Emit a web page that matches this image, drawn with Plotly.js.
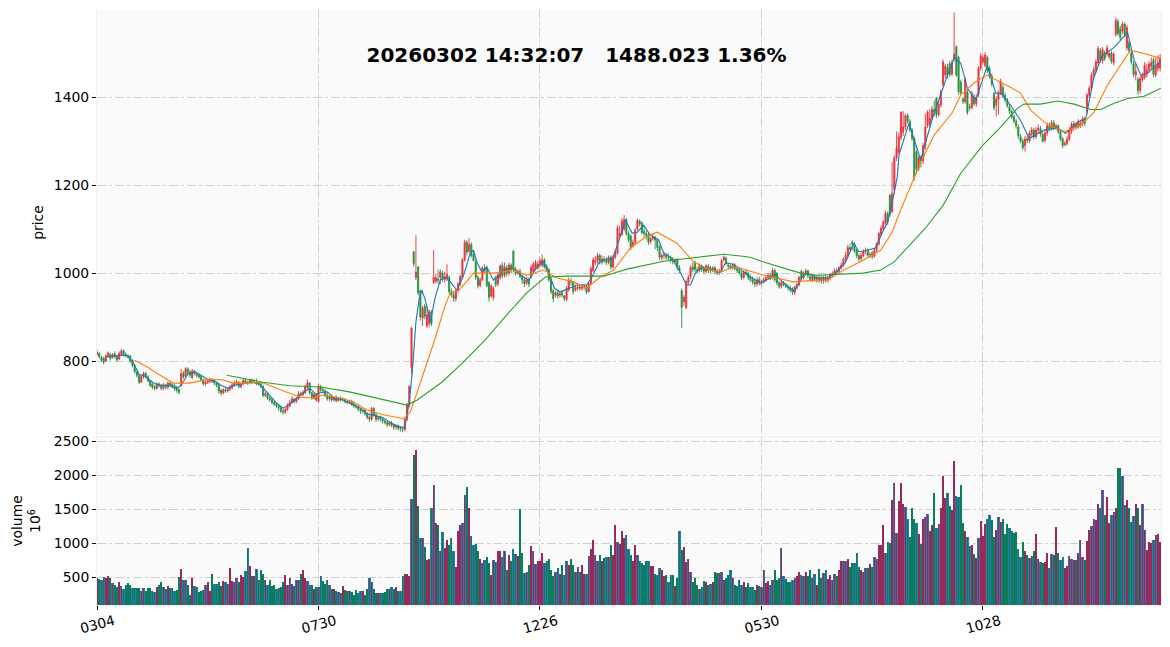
<!DOCTYPE html>
<html><head><meta charset="utf-8">
<script src="https://cdn.plot.ly/plotly-3.0.1.min.js"></script>
<style>html,body{margin:0;padding:0;background:#fff}</style></head>
<body><div id="chart" style="width:1170px;height:647px"></div>
<script>
const opens=[815,818,808,806,800,812,815,808,816,810,
805,816,824,815,812,812,802,790,775,768,
752,765,772,764,755,748,742,738,748,745,
738,745,740,750,747,745,740,735,745,772,
766,782,775,762,778,772,768,765,757,748,
752,754,758,755,750,745,733,728,734,732,
736,740,744,748,752,742,748,756,752,750,
756,752,752,748,746,742,722,726,716,712,
706,702,698,694,686,684,690,698,706,714,
708,714,726,724,728,740,750,728,716,724,
708,742,735,732,722,714,720,712,716,710,
714,712,712,708,706,708,702,698,696,690,
686,688,680,672,668,692,678,668,672,668,
664,660,656,660,654,650,652,648,646,645,
668,700,785,1048,990,1014,960,898,925,880,
885,912,979,982,986,990,1000,985,988,990,
958,950,942,960,975,990,1030,1070,1050,1065,
1042,1025,990,972,985,1012,1012,978,948,945,
990,975,990,1018,995,1012,1000,1018,1050,1008,
1000,1004,992,985,978,985,992,1004,1010,1012,
1020,1018,1030,1015,1008,985,960,950,955,950,
955,948,940,962,982,980,962,965,968,965,
968,970,957,976,1006,1024,1028,1040,1026,1032,
1030,1024,1036,1014,1036,1046,1085,1088,1100,1122,
1090,1084,1062,1070,1100,1118,1114,1095,1090,1088,
1072,1078,1082,1075,1060,1035,1040,1040,1036,1035,
1030,1026,1030,1012,960,935,922,978,992,1014,
1024,1008,1006,1016,1010,1004,1016,1012,1006,1012,
1004,1000,1004,1030,1034,1018,1016,1012,1018,1010,
1006,1000,990,1002,1000,990,985,980,975,985,
978,980,985,990,995,990,1006,1000,978,970,
978,974,970,966,965,955,968,974,1004,990,
1000,1005,992,985,992,985,990,988,982,990,
984,990,996,998,1006,1004,1012,1018,1030,1040,
1058,1070,1066,1052,1040,1032,1040,1050,1052,1042,
1046,1038,1052,1066,1088,1100,1114,1135,1177,1140,
1190,1262,1275,1308,1320,1332,1358,1345,1325,1306,
1275,1238,1262,1255,1290,1336,1338,1352,1372,1398,
1360,1382,1428,1450,1468,1476,1452,1488,1514,1490,
1434,1395,1390,1412,1378,1376,1400,1385,1406,1466,
1480,1472,1490,1465,1448,1408,1382,1395,1408,1422,
1404,1394,1378,1368,1355,1345,1332,1310,1300,1290,
1305,1300,1315,1325,1310,1325,1328,1315,1302,1318,
1335,1328,1342,1330,1335,1322,1305,1292,1295,1305,
1322,1330,1338,1332,1336,1340,1352,1366,1404,1420,
1450,1462,1478,1505,1482,1500,1498,1492,1500,1478,
1542,1572,1555,1550,1566,1512,1524,1500,1476,1450,
1440,1415,1440,1445,1452,1462,1470,1485,1450,1465,1466];
const closes=[820,810,802,798,812,818,806,815,810,803,
818,823,815,812,811,800,790,776,768,752,
765,772,764,755,745,741,738,748,744,738,
746,741,750,746,743,738,734,729,772,764,
783,774,768,778,772,767,764,758,748,752,
755,758,754,750,745,732,728,735,732,736,
741,746,750,753,742,749,756,751,750,756,
752,752,748,747,742,722,726,716,712,706,
702,698,694,686,684,690,698,706,714,708,
714,726,724,729,741,751,728,716,724,712,
743,735,732,722,714,720,712,716,710,714,
712,712,708,706,708,702,698,696,690,686,
688,680,672,668,692,678,668,672,668,664,
660,656,660,654,650,652,648,646,645,668,
700,742,875,1022,1002,955,900,920,902,905,
912,885,990,990,984,1002,985,990,997,958,
950,942,960,975,992,1030,1070,1048,1065,1040,
1028,990,972,985,1012,1006,972,945,970,965,
974,995,1016,994,1014,1000,1018,1008,1008,1000,
1005,992,985,976,985,975,1013,1020,1024,1020,
1028,1030,1014,1008,985,958,942,955,948,952,
950,942,965,984,980,958,967,968,966,968,
970,957,976,1010,1030,1028,1040,1027,1032,1030,
1024,1036,1014,1036,1046,1102,1090,1118,1122,1090,
1076,1058,1070,1098,1120,1112,1092,1090,1086,1070,
1078,1082,1075,1058,1036,1040,1040,1036,1035,1030,
1026,1030,1012,1006,922,945,980,990,1013,1008,
1008,1006,1018,1008,1004,1016,1006,1006,1012,1004,
1000,1004,1028,1036,1022,1016,1012,1018,1010,1006,
1000,990,1002,1000,990,985,980,975,985,978,
980,985,990,995,990,1006,985,978,970,978,
974,970,966,962,958,968,974,990,988,1000,
1005,994,986,992,985,990,985,982,990,984,
990,996,998,1006,1004,1012,1018,1030,1040,1058,
1054,1066,1050,1040,1032,1040,1050,1052,1040,1042,
1038,1052,1066,1090,1102,1116,1136,1116,1134,1180,
1262,1285,1310,1365,1332,1358,1345,1325,1306,1218,
1238,1262,1255,1290,1332,1366,1352,1372,1366,1360,
1384,1412,1480,1470,1450,1452,1478,1498,1450,1412,
1410,1390,1440,1365,1376,1408,1385,1400,1466,1494,
1490,1496,1460,1446,1430,1376,1395,1408,1436,1404,
1394,1380,1368,1355,1345,1335,1312,1300,1285,1305,
1302,1318,1325,1310,1325,1330,1316,1300,1318,1335,
1328,1342,1330,1335,1322,1305,1290,1295,1305,1325,
1338,1340,1330,1344,1340,1350,1340,1405,1420,1450,
1462,1480,1510,1485,1508,1488,1512,1500,1482,1498,
1574,1545,1536,1566,1542,1558,1506,1480,1452,1458,
1415,1442,1450,1472,1462,1475,1478,1452,1470,1478,1488];
const highs=[826,820,812,810,815,822,818,818,822,812,
822,828,826,820,815,813,804,792,778,770,
768,776,776,768,757,750,746,752,752,748,
750,748,754,752,750,747,744,738,782,778,
786,786,780,782,780,776,772,768,760,756,
758,762,760,758,752,748,737,738,738,740,
745,750,756,758,755,752,760,760,755,760,
760,758,760,752,752,745,730,728,720,716,
710,706,702,698,692,694,704,712,720,716,
718,732,730,734,746,758,752,730,728,726,
748,746,740,736,728,722,724,720,722,718,
720,717,716,712,712,712,708,702,700,694,
692,692,684,676,696,696,682,676,676,672,
668,664,664,664,658,656,656,652,650,670,
705,745,878,1050,1086,1016,962,925,930,925,
918,916,1052,998,1008,1008,1005,1003,1020,995,
965,958,965,980,996,1035,1076,1075,1080,1070,
1050,1030,995,990,1016,1020,1016,982,975,970,
994,1000,1020,1024,1024,1018,1024,1022,1052,1014,
1008,1010,996,990,992,990,1018,1026,1030,1028,
1034,1042,1034,1020,1012,990,964,960,962,958,
962,950,970,990,988,982,974,974,972,976,
975,974,980,1016,1036,1038,1046,1044,1040,1038,
1036,1040,1040,1040,1052,1108,1108,1125,1132,1126,
1096,1088,1076,1102,1124,1122,1118,1104,1096,1092,
1082,1090,1084,1080,1064,1045,1048,1046,1044,1040,
1036,1034,1034,1018,965,950,985,996,1018,1024,
1028,1014,1022,1020,1014,1020,1020,1016,1016,1016,
1010,1010,1032,1040,1038,1024,1020,1022,1022,1014,
1010,1004,1006,1008,1004,996,992,988,990,992,
986,990,995,1000,1000,1012,1010,1002,982,982,
982,978,974,972,968,972,978,994,1008,1004,
1010,1008,998,996,998,996,996,994,994,996,
994,1000,1004,1010,1012,1016,1024,1036,1048,1064,
1066,1075,1070,1056,1044,1046,1054,1058,1056,1048,
1050,1058,1070,1094,1108,1120,1142,1140,1180,1252,
1268,1322,1320,1368,1368,1362,1364,1350,1330,1310,
1280,1266,1268,1296,1362,1370,1372,1380,1392,1400,
1390,1418,1486,1476,1476,1482,1484,1592,1518,1494,
1440,1400,1446,1416,1385,1414,1406,1406,1470,1500,
1496,1502,1494,1470,1454,1412,1402,1415,1442,1428,
1410,1398,1384,1372,1360,1350,1338,1316,1306,1312,
1312,1324,1332,1330,1332,1338,1334,1322,1325,1342,
1342,1348,1348,1340,1338,1326,1310,1300,1312,1332,
1344,1346,1342,1350,1348,1356,1356,1410,1426,1456,
1468,1486,1516,1512,1514,1506,1518,1506,1506,1502,
1580,1578,1562,1572,1570,1564,1530,1505,1482,1478,
1445,1448,1456,1480,1476,1482,1490,1490,1490,1495,1498];
const lows=[812,806,798,793,798,808,802,806,806,798,
802,812,810,808,806,796,786,772,762,748,
750,760,760,752,741,736,733,735,740,733,
734,736,736,742,738,732,728,724,742,760,
764,770,762,760,768,763,760,754,744,744,
748,750,750,745,740,726,722,724,728,728,
732,736,742,744,738,738,745,748,746,747,
748,748,745,744,738,718,718,712,708,702,
698,694,688,682,678,680,687,695,703,704,
704,711,720,720,725,736,724,712,712,708,
705,730,728,718,710,708,708,708,706,708,
708,708,704,702,702,698,694,692,686,680,
682,676,668,662,664,674,662,664,662,658,
656,650,652,650,644,644,642,640,638,640,
664,695,770,1015,984,950,892,880,895,875,
878,880,975,976,975,975,980,978,982,952,
945,935,935,955,970,986,1026,1040,1045,1035,
1036,985,965,968,982,1000,968,935,944,938,
968,970,985,988,990,992,994,1000,1002,994,
996,988,975,968,972,968,988,1000,1006,1008,
1014,1014,1010,1002,980,952,934,945,942,944,
945,936,936,958,972,952,958,960,960,960,
962,952,972,974,1002,1018,1022,1020,1020,1024,
1018,1020,1008,1010,1032,1042,1080,1084,1095,1085,
1070,1052,1058,1066,1096,1106,1088,1082,1076,1064,
1066,1074,1054,1050,1030,1028,1032,1030,1028,1024,
1020,1022,1006,1000,875,926,918,972,986,1002,
1002,1000,1002,1002,998,1000,1000,1000,1002,998,
996,996,1002,1026,1018,1010,1008,1008,1006,1000,
996,984,986,994,984,980,974,968,970,972,
972,976,980,986,984,986,980,972,965,965,
970,966,960,956,950,950,962,970,984,986,
996,988,980,980,980,978,978,976,976,978,
978,984,990,994,998,1000,1008,1014,1026,1036,
1050,1052,1046,1034,1026,1028,1036,1042,1036,1034,
1032,1036,1048,1062,1084,1096,1110,1110,1128,1136,
1180,1255,1270,1302,1312,1325,1340,1320,1300,1210,
1226,1232,1240,1248,1280,1330,1330,1348,1355,1352,
1356,1376,1422,1444,1442,1446,1448,1480,1446,1405,
1405,1385,1385,1360,1370,1372,1380,1378,1400,1460,
1474,1468,1455,1442,1424,1370,1356,1360,1405,1398,
1388,1376,1362,1350,1340,1328,1305,1295,1280,1276,
1295,1296,1308,1304,1305,1318,1310,1296,1298,1312,
1322,1324,1325,1325,1316,1300,1284,1288,1290,1300,
1316,1324,1326,1328,1330,1334,1334,1360,1398,1414,
1444,1456,1472,1478,1476,1482,1492,1486,1476,1472,
1538,1540,1530,1544,1536,1506,1500,1474,1445,1438,
1405,1408,1434,1440,1445,1455,1462,1445,1445,1458,1458];
const volumes=[490,470,450,500,490,520,490,410,390,350,
420,370,320,390,410,380,340,340,340,340,
290,340,290,340,340,300,280,350,380,420,
360,330,370,340,340,300,310,500,620,450,
460,380,240,490,370,360,280,290,310,380,
430,290,540,400,400,420,370,440,420,400,
640,440,420,490,420,530,500,590,920,660,
510,510,620,460,610,550,460,380,450,370,
380,330,340,350,420,530,390,480,400,370,
460,460,540,600,490,440,390,390,320,360,
360,510,440,400,460,380,330,330,300,280,
270,370,310,290,290,280,240,310,270,290,
290,240,320,480,420,320,270,270,260,270,
280,320,320,360,320,360,300,290,520,540,
550,510,1650,2290,2370,1540,1070,1080,940,750,
760,1520,1850,1300,1260,880,1160,920,1050,970,
1080,880,650,1180,1270,1290,1710,1820,1510,1100,
970,990,880,770,700,750,800,700,530,750,
720,890,890,800,890,600,820,730,910,840,
810,1500,850,560,580,680,960,890,690,730,
740,860,700,740,760,610,510,570,630,540,
680,530,730,670,760,680,580,650,580,680,
550,550,810,910,1050,820,740,830,740,780,
800,800,970,820,1270,1010,990,1180,1070,1120,
910,820,740,970,820,730,700,670,740,740,
660,660,540,530,630,600,510,530,430,530,
530,370,480,1170,900,940,720,770,570,430,
480,380,320,360,440,420,380,400,420,570,
560,560,570,460,480,530,600,490,380,370,
460,380,420,360,410,360,360,310,380,370,
360,600,410,440,390,460,600,460,480,930,
510,470,430,420,460,480,510,580,530,510,
580,510,610,480,540,390,620,480,560,610,
470,530,460,550,520,600,730,730,740,760,
650,700,700,850,650,600,580,630,630,690,
650,800,760,970,970,1260,850,1020,1000,1630,
1880,1150,1620,1890,1570,1530,1350,1090,1520,1360,
1300,1130,990,1360,1390,1420,1170,1260,1740,1220,
1280,1520,1980,1660,1740,1550,1490,2200,1690,1670,
1850,1290,1170,1090,960,970,840,780,1080,1320,
1110,1280,1350,1410,1340,1090,1190,1380,1310,1350,
1140,1280,1220,1170,1150,1160,910,790,1010,890,
820,780,810,890,1130,770,720,710,720,850,
630,840,830,1230,860,750,790,640,660,810,
770,750,750,860,1050,800,750,1030,1190,1250,
1350,1340,1570,1520,1780,1410,1670,1290,1410,1460,
1520,2110,2110,1980,1560,1640,1520,1310,1400,1570,
1520,1260,1570,1190,900,1010,1000,1050,1120,1140,1010];

const ma5X=[4,8,13,16,19,22,25,28,32,36,38,41,44,47,50,53,56,59,62,65,69,73,75,78,81,84,87,90,93,96,99,101,104,107,111,115,119,122,125,129,133,137,139,141,142.5,144,145.5,146.7,148.2,150.5,152.7,155,157.2,159.5,162.5,165.5,168.5,170,171.5,173.8,176,179,183.6,188,192.6,195,198.6,201.7,204,206.5,209,212.2,216.7,221,223.5,226.5,230.3,232.5,235,238.6,241.6,244,246.8,249.9,253.6,255.9,259.6,263.4,266.1,268,270.2,273.2,277,281.5,283.7,287.5,289,295,299.6,304,306,310,314.6,317,318.4,321,325,329.7,334,338,341.7,344,347.7,351.5,354.5,356.8,359,361.3,362.1,366.6,371.9,377.2,384,387,390,393,396.8,402,405.8,408,412.6,417,420.9,427.6,433.6,437.4,442.7,446.5,450,453.9,459.3,465.3,468.3,471.3,474.3,478,480.3];
const ma5Y=[810,812,814,800,770,765,752,745,745,738,745,770,775,768,758,755,745,738,745,748,752,750,738,722,705,693,702,715,728,738,725,728,730,716,712,702,693,680,676,672,658,650,650,707,784,889,943,961,939,889,945,984,991,980,961,995,1045,1052,1025,1002,1014,984,1007,1011,991,984,1014,1025,1000,966,957,964,973,973,991,1023,1032,1030,1064,1120,1091,1093,1109,1086,1075,1045,1034,1002,973,973,1000,1014,1009,1002,1023,1020,1014,991,977,989,998,977,959,977,991,1000,989,989,1002,1025,1068,1048,1052,1057,1091,1114,1159,1218,1268,1341,1257,1352,1450,1490,1477,1420,1393,1472,1409,1409,1381,1347,1306,1325,1330,1318,1343,1352,1443,1495,1513,1547,1484,1450,1454,1472,1479];
const ma20X=[17,22.5,28.5,34.5,37.5,42,46.5,51,57,61.6,67.6,72,75,81,87,91.7,97.7,102,110,115.8,121.8,129.4,138.4,141.4,144.4,148.2,152.7,157.2,159.5,163.3,166.3,170,173.8,179,182,188,194,201.7,207.7,215.2,221,227.3,233.3,240.8,247.6,252.9,261.9,269.4,277,281.5,287.5,289,301,314.6,325,329.7,337.2,346.2,353.8,359,362.8,367.3,371.9,377.9,386.2,390,396,401.7,406.5,412.6,417,421.6,429,436.7,444.2,450.2,456.2,462.3,466.5,472.8,480.3];
const ma20Y=[802,787,768,750,750,750,755,759,757,750,750,752,750,739,727,718,716,723,716,707,689,678,669,684,727,784,852,927,955,961,977,1000,1000,1000,1002,1007,995,1007,989,980,966,991,1007,1057,1082,1093,1068,1025,1007,1002,1014,1014,995,980,984,984,1007,1030,1052,1093,1143,1195,1252,1313,1365,1405,1432,1450,1438,1422,1409,1370,1338,1322,1336,1366,1427,1472,1506,1499,1488];
const ma60X=[58.6,75,87,100.7,114,126.4,140,144.4,155.7,164.8,175.3,185,194,202.4,212,228.8,239.3,255.9,268,283,290.5,295,301,310,317.6,325,337,346,353.8,359.8,367.3,374,382,390,400,408,415.6,418.6,426,433.7,441.2,448.7,453.2,459.3,465.3,472.8,480.3];
const ma60Y=[768,752,744,741,730,716,700,711,752,795,848,905,955,991,993,993,1009,1027,1034,1043,1039,1036,1025,1011,1000,995,998,1000,1007,1025,1066,1102,1154,1227,1291,1332,1375,1384,1384,1391,1384,1372,1372,1386,1397,1402,1420];

const tickVals=[0,100,200,300,400];
const tickText=['0304','0730','1226','0530','1028'];
const titleText='20260302 14:32:07   1488.023 1.36%';

const indices=closes.map((_,i)=>i);
const FONT='"DejaVu Sans"';
const candle={type:'candlestick',x:indices,open:opens,high:highs,low:lows,close:closes,xaxis:'x',yaxis:'y',
  whiskerwidth:0,hoverinfo:'skip',
  increasing:{line:{color:'#e8333a',width:0.9},fillcolor:'#e8333a'},
  decreasing:{line:{color:'#2b8f3e',width:0.9},fillcolor:'#2b8f3e'},showlegend:false};
const line=(x,y,c)=>({type:'scatter',mode:'lines',x,y,xaxis:'x',yaxis:'y',line:{color:c,width:1.1},hoverinfo:'skip',showlegend:false});
const volBase={type:'bar',x:indices,y:volumes,xaxis:'x',yaxis:'y2',width:1,marker:{color:'#2e76ab',line:{width:0}},hoverinfo:'skip',showlegend:false};
const volTop={type:'bar',x:indices,y:volumes,xaxis:'x',yaxis:'y2',width:0.72,
  marker:{color:closes.map((c,i)=>c>=opens[i]?'#972a58':'#0a7d5a'),line:{width:0}},hoverinfo:'skip',showlegend:false};

const gridC='#cfcfcf';
const layout={width:1170,height:647,margin:{l:97,r:9,t:10,b:42,pad:0},
  paper_bgcolor:'#ffffff',plot_bgcolor:'#fafafa',barmode:'overlay',bargap:0,showlegend:false,
  font:{family:FONT,size:13.9,color:'#000'},
  title:{text:titleText,font:{family:FONT,size:20,weight:700,color:'#000'},xref:'container',yref:'container',x:576.5/1170,y:1-55/647,xanchor:'center',yanchor:'middle'},
  xaxis:{domain:[0,1],anchor:'y2',range:[0,480.4],type:'linear',tickmode:'array',tickvals:tickVals,ticktext:tickText,tickangle:-15,
    ticklabelshift:17,ticklabelstandoff:-2,ticks:'outside',ticklen:4,tickcolor:'#000',tickwidth:1,showgrid:true,gridcolor:gridC,griddash:'dashdot',gridwidth:1,
    zeroline:false,showline:true,linecolor:'#eeeeee',mirror:true,rangeslider:{visible:false},tickfont:{size:13.9}},
  yaxis:{domain:[170/595,1],range:[632,1598],tickmode:'array',tickvals:[800,1000,1200,1400],ticks:'outside',ticklen:4,tickcolor:'#000',
    showgrid:true,gridcolor:gridC,griddash:'dashdot',zeroline:false,showline:true,linecolor:'#eeeeee',mirror:true,
    title:{text:'price',font:{size:13.9},standoff:6}},
  yaxis2:{domain:[0,168/595],range:[89,2559],tickmode:'array',tickvals:[500,1000,1500,2000,2500],ticks:'outside',ticklen:4,tickcolor:'#000',
    showgrid:true,gridcolor:gridC,griddash:'dashdot',zeroline:false,showline:true,linecolor:'#eeeeee',mirror:true,
    title:{text:'volume<br>10<sup>6</sup>',font:{size:13.9},standoff:9}}
};
Plotly.newPlot('chart',[volBase,volTop,candle,line(ma5X,ma5Y,'#1f77b4'),line(ma20X,ma20Y,'#ff7f0e'),line(ma60X,ma60Y,'#2ca02c')],layout,{displayModeBar:false,staticPlot:true});
</script></body></html>
